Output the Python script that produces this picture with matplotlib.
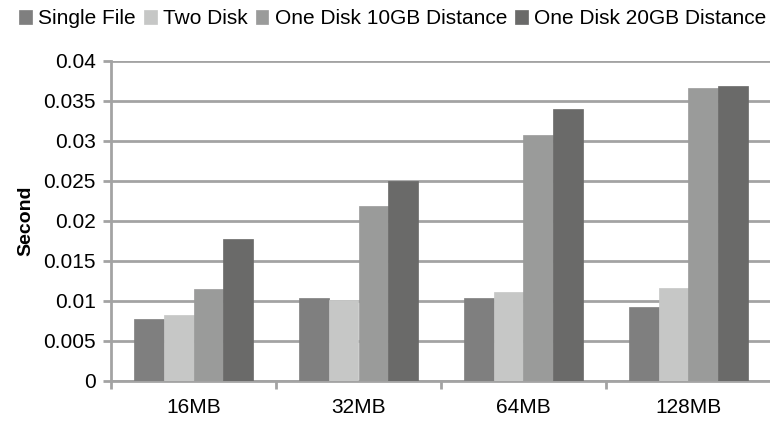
import matplotlib
matplotlib.use("Agg")
import matplotlib.pyplot as plt
import numpy as np

categories = ["16MB", "32MB", "64MB", "128MB"]
series_names = ["Single File", "Two Disk", "One Disk 10GB Distance", "One Disk 20GB Distance"]
single_file = [0.00775, 0.0104, 0.0104, 0.0093]
two_disk = [0.0083, 0.0101, 0.0111, 0.0116]
one_disk_10gb = [0.0115, 0.0219, 0.0308, 0.0366]
one_disk_20gb = [0.0177, 0.0250, 0.0340, 0.0369]
colors = ["#7f7f7f", "#c6c7c6", "#9a9b9a", "#6a6a69"]

plt.rcParams['font.family'] = ['Liberation Sans', 'DejaVu Sans']

fig = plt.figure(figsize=(7.7, 4.25), dpi=100)
ax = fig.add_axes([111 / 770, 1 - 381 / 425, (771 - 111) / 770, 320 / 425])

x = np.arange(len(categories))
w = 0.18
all_series = [single_file, two_disk, one_disk_10gb, one_disk_20gb]
for i, (vals, name, c) in enumerate(zip(all_series, series_names, colors)):
    ax.bar(x + (i - 1.5) * w, vals, w, color=c, label=name, zorder=3,
           edgecolor=c, linewidth=0.5)

ax.set_xlim(-0.5, len(categories) - 0.5)
ax.set_ylim(0, 0.04)
ax.set_yticks(np.arange(0, 0.0401, 0.005))
ax.set_yticklabels(["0", "0.005", "0.01", "0.015", "0.02", "0.025", "0.03", "0.035", "0.04"])
ax.yaxis.grid(True, color="#a3a3a3", linewidth=2, zorder=0)

ax.set_xticks(x)
ax.set_xticklabels(categories)
ax.set_xticks(np.arange(-0.5, len(categories) + 0.5, 1), minor=True)
ax.tick_params(axis="x", which="major", length=0, pad=12, labelsize=15)
ax.tick_params(axis="x", which="minor", length=6, width=2, color="#a3a3a3", direction="out")
ax.tick_params(axis="y", length=6, width=2, color="#a3a3a3", labelsize=15, pad=5)

for s in ["top", "right"]:
    ax.spines[s].set_visible(False)
for s in ["left", "bottom"]:
    ax.spines[s].set_color("#a3a3a3")
    ax.spines[s].set_linewidth(2)

ax.set_ylabel("Second", fontsize=14, fontweight="bold", labelpad=6)

ax.legend(loc="upper left", bbox_to_anchor=(-100 / 660, 1 + 60 / 320), ncol=4,
          frameon=False, fontsize=15, handlelength=0.6, handleheight=0.7,
          handletextpad=0.3, columnspacing=0.4, borderaxespad=0)

fig.savefig("out.png", dpi=100)
